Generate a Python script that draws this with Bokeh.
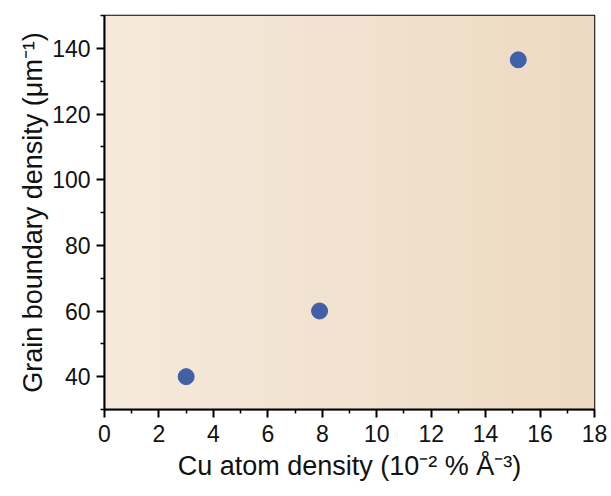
import numpy as np
from bokeh.plotting import figure
from bokeh.embed import file_html
from bokeh.resources import INLINE
from bokeh.models import Range1d, FixedTicker

cu_density = [3.0, 7.9, 15.2]
gb_density = [40.0, 60.0, 136.5]
x_ticks = [0, 2, 4, 6, 8, 10, 12, 14, 16, 18]
y_ticks = [40, 60, 80, 100, 120, 140]

p = figure(width=611, height=496, output_backend="svg", toolbar_location=None,
           x_range=Range1d(0, 18), y_range=Range1d(30, 150),
           min_border_left=104, min_border_right=17, min_border_top=15, min_border_bottom=87)

# gradient background
n = 256
t = np.linspace(0, 1, n)
c0 = np.array([246, 234, 221]); c1 = np.array([237, 218, 194])
cols = (c0[None, :] * (1 - t[:, None]) + c1[None, :] * t[:, None]).astype(np.uint32)
img = np.empty((1, n), dtype=np.uint32)
view = img.view(dtype=np.uint8).reshape((1, n, 4))
view[0, :, 0] = cols[:, 0]; view[0, :, 1] = cols[:, 1]; view[0, :, 2] = cols[:, 2]; view[0, :, 3] = 255
p.image_rgba(image=[img], x=0, y=30, dw=18, dh=120)

p.scatter(cu_density, gb_density, size=16, fill_color="#4060a8", line_color="#4060a8")

p.grid.visible = False
p.outline_line_color = "black"
p.outline_line_width = 1.5
p.background_fill_color = "white"
p.border_fill_color = "white"

p.xaxis.ticker = FixedTicker(ticks=x_ticks, minor_ticks=[x + 1 for x in x_ticks[:-1]])
p.yaxis.ticker = FixedTicker(ticks=y_ticks, minor_ticks=[30, 50, 70, 90, 110, 130, 150])
for ax in (p.xaxis, p.yaxis):
    ax.axis_line_width = 2
    ax.major_tick_line_width = 2
    ax.minor_tick_line_width = 1.5
    ax.major_tick_out = 8
    ax.major_tick_in = 0
    ax.minor_tick_out = 4
    ax.minor_tick_in = 0
    ax.major_label_text_font = "Liberation Sans"
    ax.major_label_text_font_size = "23px"
    ax.major_label_text_color = "#111111"
    ax.axis_label_text_font = "Liberation Sans"
    ax.axis_label_text_font_size = "27px"
    ax.axis_label_text_font_style = "normal"
    ax.axis_label_text_color = "#111111"

p.xaxis.axis_label = "Cu atom density (10\u207b\u00b2 % \u00c5\u207b\u00b3)"
p.yaxis.axis_label = "Grain boundary density (\u03bcm\u207b\u00b9)"
p.xaxis.major_label_standoff = 7
p.xaxis.axis_label_standoff = 6
p.yaxis.major_label_standoff = 6
p.yaxis.axis_label_standoff = 1

open("out.html", "w").write(file_html(p, INLINE))
